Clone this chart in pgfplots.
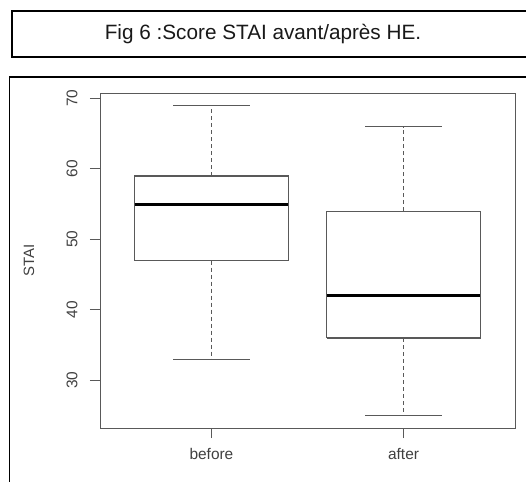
\documentclass[border=0pt]{standalone}
\usepackage{fontspec}
\setmainfont{Liberation Sans}
\usepackage{pgfplots}
\pgfplotsset{compat=1.18}
\definecolor{rline}{gray}{0.35}
\definecolor{rtext}{gray}{0.25}
\begin{document}
\begin{tikzpicture}
\path[use as bounding box] (0bp,0bp) rectangle (526bp,-482bp);
% title box
\draw[line width=1.1bp, black] (527bp,-11bp) -- (12bp,-11bp) -- (12bp,-57bp) -- (527bp,-57bp);
\node[font=\fontsize{20.8}{24}\selectfont, text=black!90] at (263bp,-34bp) {Fig 6 :Score STAI avant/après HE.};
% outer frame
\draw[line width=1.1bp, black] (527bp,-77bp) -- (9.5bp,-77bp) -- (9.5bp,-483bp);
\begin{axis}[
  at={(100bp,-428bp)}, anchor=south west,
  scale only axis, width=415bp, height=335bp,
  xmin=0.42, xmax=2.58, ymin=23.24, ymax=70.76,
  xtick={1,2}, xticklabels={before,after},
  ytick={30,40,50,60,70},
  xtick pos=bottom, ytick pos=left,
  tick align=outside, major tick length=10bp,
  axis line style={rline, line width=1bp},
  every tick/.style={rline, line width=1bp},
  tick label style={font=\fontsize{15.5}{18}\selectfont, text=rtext},
  /pgf/number format/assume math mode=true,
  yticklabel style={xshift=-9bp, rotate=90, anchor=south},
  xticklabel style={yshift=-7bp},
  ylabel={STAI},
  every axis y label/.style={at={(axis description cs:-0.171,0.5)}, rotate=90, anchor=center, font=\fontsize{15}{18}\selectfont, text=rtext},
  whisk/.style={rline, line width=1bp, dash pattern=on 4bp off 3bp},
  capl/.style={rline, line width=1.2bp},
  boxl/.style={rline, line width=1.2bp, line join=miter},
  medl/.style={black, line width=3bp},
]
% before
\addplot[boxl] coordinates {(0.6,47) (1.4,47) (1.4,59) (0.6,59) (0.6,47)};
\addplot[whisk] coordinates {(1,59) (1,69)};
\addplot[whisk] coordinates {(1,47) (1,33)};
\addplot[capl] coordinates {(0.8,69) (1.2,69)};
\addplot[capl] coordinates {(0.8,33) (1.2,33)};
\addplot[medl] coordinates {(0.6,55) (1.4,55)};
% after
\addplot[boxl] coordinates {(1.6,36) (2.4,36) (2.4,54) (1.6,54) (1.6,36)};
\addplot[whisk] coordinates {(2,54) (2,66)};
\addplot[whisk] coordinates {(2,36) (2,25)};
\addplot[capl] coordinates {(1.8,66) (2.2,66)};
\addplot[capl] coordinates {(1.8,25) (2.2,25)};
\addplot[medl] coordinates {(1.6,42) (2.4,42)};
\end{axis}
\end{tikzpicture}
\end{document}
